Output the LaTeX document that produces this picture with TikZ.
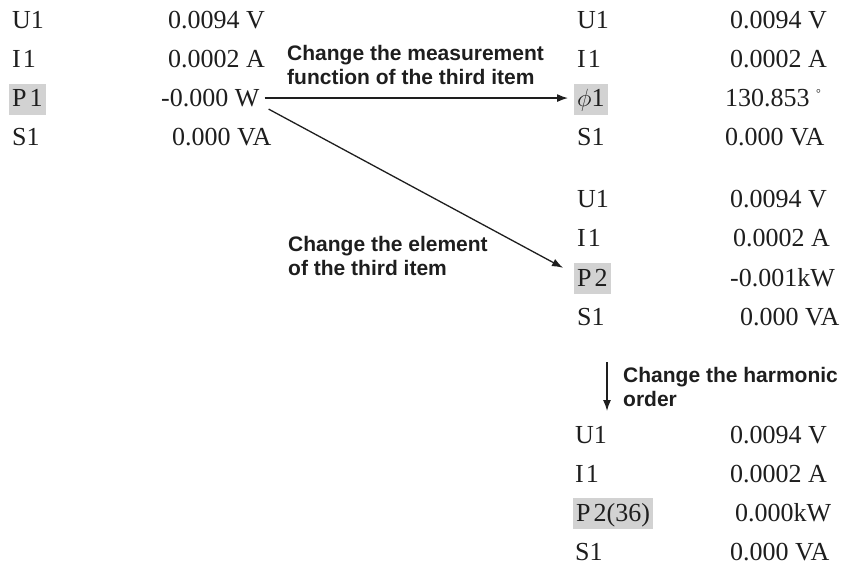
\documentclass[tikz,border=0pt]{standalone}
\usepackage{fontspec}
\setmainfont{Liberation Serif}
\newfontfamily\lsans{Liberation Sans}
\usetikzlibrary{arrows.meta}
\definecolor{hlgray}{RGB}{210,210,210}
\definecolor{ink}{RGB}{30,30,30}
\begin{document}
\begin{tikzpicture}[x=1pt,y=-1pt,
  val/.style={anchor=base west,inner sep=0pt,text=ink,font=\fontsize{26}{30}\selectfont},
  lab/.style={anchor=base west,inner sep=0pt,text=ink,font=\fontsize{26}{30}\selectfont},
  hl/.style={anchor=base west,fill=hlgray,inner xsep=3pt,inner ysep=0pt,text height=23pt,text depth=8pt,text=ink,font=\fontsize{26}{30}\selectfont},
  note/.style={anchor=north west,inner sep=0pt,align=left,text=ink,font=\lsans\bfseries\fontsize{21}{24}\selectfont},
  arr/.style={draw=ink,line width=1.3pt,-{Latex[length=11pt,width=8pt]}}]
\useasboundingbox (0,0) rectangle (848,565);
% top-left block
\node[lab] (a1) at (12,28.5) {U1};
\node[val] (a1v) at (168,28.5) {0.0094 V};
\node[lab] (a2) at (12,67.5) {I\kern2pt 1};
\node[val] (a2v) at (168,67.5) {0.0002 A};
\node[hl] (a3) at (9,106.5) {P\kern3pt 1};
\node[val] (a3v) at (161,106.5) {-0.000 W};
\node[lab] (a4) at (12,145.5) {S1};
\node[val] (a4v) at (172,145.5) {0.000 VA};
% top-right block
\node[lab] (b1) at (577,28.5) {U1};
\node[val] (b1v) at (730,28.5) {0.0094 V};
\node[lab] (b2) at (577,67.5) {I\kern2pt 1};
\node[val] (b2v) at (730,67.5) {0.0002 A};
\node[hl] (b3) at (574,106.5) {$\phi$1};
\node[val] (b3v) at (725,106.5) {130.853 \raisebox{9pt}{\fontsize{12}{12}\selectfont °}};
\node[lab] (b4) at (577,145.5) {S1};
\node[val] (b4v) at (725,145.5) {0.000 VA};
% middle block
\node[lab] (c1) at (577,207.5) {U1};
\node[val] (c1v) at (730,207.5) {0.0094 V};
\node[lab] (c2) at (577,246.5) {I\kern2pt 1};
\node[val] (c2v) at (733,246.5) {0.0002 A};
\node[hl] (c3) at (574,286) {P\kern3pt 2};
\node[val] (c3v) at (730,286) {-0.001kW};
\node[lab] (c4) at (577,325) {S1};
\node[val] (c4v) at (740,325) {0.000 VA};
% bottom block
\node[lab] (d1) at (575,443) {U1};
\node[val] (d1v) at (730,443) {0.0094 V};
\node[lab] (d2) at (575,482) {I\kern2pt 1};
\node[val] (d2v) at (730,482) {0.0002 A};
\node[hl] (d3) at (573,521) {P\kern3pt 2(36)};
\node[val] (d3v) at (735,521) {0.000kW};
\node[lab] (d4) at (575,560) {S1};
\node[val] (d4v) at (730,560) {0.000 VA};
% notes
\node[note] (m1) at (287,45) {Change the measurement\\function of the third item};
\node[note] (m2) at (288,236) {Change the element\\of the third item};
\node[note] (m3) at (623,367) {Change the harmonic\\order};
% connectors
\draw[arr] ([xshift=5pt]a3v.east) -- ([xshift=-6pt]a3v.east -| b3.west);
\draw[arr] ([shift={(9,2)}]a3v.south east) -- ([shift={(-11,5)}]c3.north west);
\coordinate (h1) at (607,362);
\coordinate (h2) at (607,411);
\draw[arr] (h1) -- (h2);
\end{tikzpicture}
\end{document}
